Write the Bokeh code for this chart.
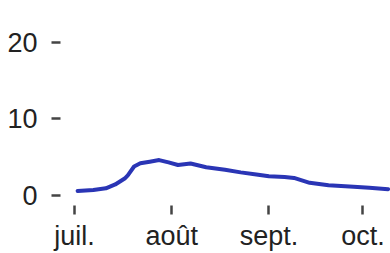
from datetime import datetime, timedelta
from bokeh.plotting import figure
from bokeh.models import FixedTicker, Range1d
from bokeh.embed import file_html
from bokeh.resources import INLINE

dates = ["2020-07-02", "2020-07-07", "2020-07-11", "2020-07-14", "2020-07-17",
         "2020-07-18", "2020-07-20", "2020-07-22", "2020-07-25", "2020-07-28",
         "2020-07-31", "2020-08-03", "2020-08-07", "2020-08-12", "2020-08-18",
         "2020-08-23", "2020-08-28", "2020-09-01", "2020-09-06", "2020-09-09",
         "2020-09-14", "2020-09-20", "2020-09-28", "2020-10-03", "2020-10-09"]
values = [0.63, 0.76, 0.97, 1.47, 2.24, 2.66, 3.8, 4.22, 4.43, 4.64,
          4.34, 4.0, 4.2, 3.71, 3.38, 3.04, 2.75, 2.53, 2.44, 2.32,
          1.68, 1.36, 1.18, 1.05, 0.85]
month_ticks = ["2020-07-01", "2020-08-01", "2020-09-01", "2020-10-01"]
month_labels = ["juil.", "août", "sept.", "oct."]
y_ticks = [0, 10, 20]

x = [datetime.strptime(d, "%Y-%m-%d") for d in dates]
tick_dt = [datetime.strptime(d, "%Y-%m-%d") for d in month_ticks]
epoch = datetime(1970, 1, 1)
tick_ms = [int((t - epoch).total_seconds() * 1000) for t in tick_dt]

x0 = tick_dt[0] - timedelta(days=4.46)
x1 = tick_dt[0] + timedelta(days=100.77)

p = figure(width=390, height=253, x_axis_type="datetime",
           x_range=Range1d(x0, x1), y_range=Range1d(-1.27, 22.15),
           output_backend="svg", toolbar_location=None,
           min_border_left=60, min_border_right=0, min_border_top=25,
           min_border_bottom=43)

p.line(x, values, line_color="#2a35b5", line_width=4, line_join="round", line_cap="round")

p.grid.visible = False
p.outline_line_color = None
p.background_fill_color = "white"
p.border_fill_color = "white"

xa = p.xaxis[0]
xa.ticker = FixedTicker(ticks=tick_ms)
xa.major_label_overrides = {ms: lab for ms, lab in zip(tick_ms, month_labels)}
xa.axis_line_color = None
xa.minor_tick_line_color = None
xa.major_tick_in = 0
xa.major_tick_out = 9
xa.major_tick_line_width = 2.5
xa.major_tick_line_color = "#444444"
xa.major_label_standoff = 6
xa.major_label_text_font = "Liberation Sans"
xa.major_label_text_font_size = "27px"
xa.major_label_text_color = "#222222"

ya = p.yaxis[0]
ya.ticker = FixedTicker(ticks=y_ticks)
ya.axis_line_color = None
ya.minor_tick_line_color = None
ya.major_tick_in = 0
ya.major_tick_out = 9
ya.major_tick_line_width = 2.5
ya.major_tick_line_color = "#444444"
ya.major_label_standoff = 14
ya.major_label_text_font = "Liberation Sans"
ya.major_label_text_font_size = "27px"
ya.major_label_text_color = "#222222"

open("out.html", "w").write(file_html(p, INLINE))
